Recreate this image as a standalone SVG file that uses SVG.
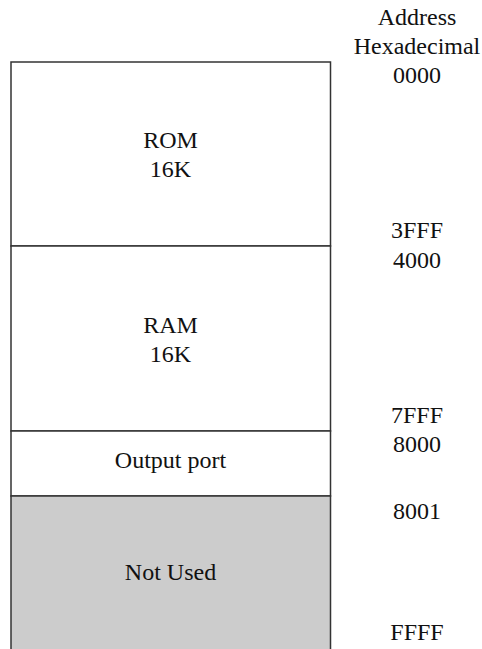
<svg xmlns="http://www.w3.org/2000/svg" width="482" height="649" viewBox="0 0 482 649">
<style>
.box{fill:#ffffff;stroke:#333333;stroke-width:1.5}
.unused{fill:#cccccc;stroke:#333333;stroke-width:1.5}
</style>
<rect width="482" height="649" fill="#ffffff"/>
<g font-family="Liberation Serif" font-size="24" fill="#111111" text-anchor="middle">
<g id="rom">
<rect class="box" x="11" y="62" width="319.5" height="184"/>
<text x="170.5" y="148">ROM</text>
<text x="170.5" y="177">16K</text>
</g>
<g id="ram">
<rect class="box" x="11" y="246" width="319.5" height="185"/>
<text x="170.5" y="333">RAM</text>
<text x="170.5" y="362">16K</text>
</g>
<g id="output-port">
<rect class="box" x="11" y="431" width="319.5" height="65"/>
<text x="170.5" y="468">Output port</text>
</g>
<g id="not-used">
<path class="unused" d="M11,652 V496 H330.5 V652"/>
<text x="170.5" y="580">Not Used</text>
</g>
<g id="addresses">
<text x="417" y="25">Address</text>
<text x="417" y="54">Hexadecimal</text>
<text x="417" y="83">0000</text>
<text x="417" y="238">3FFF</text>
<text x="417" y="268">4000</text>
<text x="417" y="423">7FFF</text>
<text x="417" y="452">8000</text>
<text x="417" y="519">8001</text>
<text x="417" y="640">FFFF</text>
</g>
</g>
<g id="connectors"></g>
</svg>
